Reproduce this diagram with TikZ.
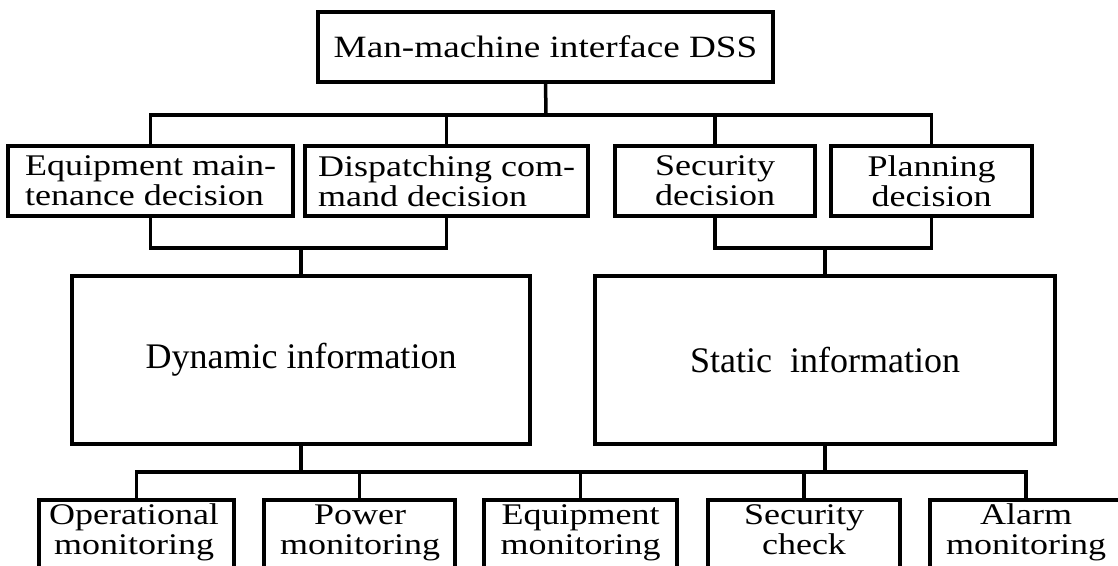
\documentclass[tikz,border=0pt]{standalone}
\usepackage{fontspec}
\setmainfont{Liberation Serif}[FakeStretch=1.2]
\newfontfamily\condfont{Liberation Serif}
\begin{document}
\begin{tikzpicture}[x=1pt,y=-1pt,
  box/.style={draw, line width=4.5pt, inner sep=0pt, outer sep=0pt},
  conn/.style={line width=3.5pt},
  dec/.style={font=\fontsize{30}{30}\selectfont},
  btext/.style={dec, anchor=north, inner sep=0pt, align=center},
  info/.style={font=\condfont\fontsize{36}{36}\selectfont}]
\clip (0,0) rectangle (1118,565);
\fill[white] (0,0) rectangle (1118,565);
% level 0
\node[box, minimum width=455pt, minimum height=70pt, font=\fontsize{31}{31}\selectfont] (top) at (545.5,47) {Man-machine interface DSS};
% level 1
\node[box, dec, minimum width=285pt, minimum height=70pt, align=left] (eqm) at (150.5,181) {Equipment main-\\tenance decision};
\node[box, dec, minimum width=283pt, minimum height=70pt, align=left] (disp) at (446.5,181) {Dispatching com-\\mand decision};
\node[box, dec, minimum width=200pt, minimum height=70pt, align=center] (sec) at (715,181) {Security\\decision};
\node[box, dec, minimum width=201pt, minimum height=70pt, align=center] (plan) at (931.5,181) {Planning\\decision};
% level 2
\node[box, info, minimum width=458pt, minimum height=168pt] (dyn) at (301,360) {Dynamic information};
\node[box, info, minimum width=460pt, minimum height=168pt] (stat) at (825,360) {Static\ \ information};
% level 3
\node[box, minimum width=195pt, minimum height=100pt] (op) at (136.5,550) {};
\node[box, minimum width=191pt, minimum height=100pt] (pow) at (359.5,550) {};
\node[box, minimum width=193pt, minimum height=100pt] (eqmon) at (580.5,550) {};
\node[box, minimum width=192pt, minimum height=100pt] (secc) at (804,550) {};
\node[box, minimum width=192pt, minimum height=100pt] (alarm) at (1026,550) {};
\node[btext] (opt) at (134,503) {\strut Operational\\monitoring};
\node[btext] (powt) at (360,503) {\strut Power\\monitoring};
\node[btext] (eqmont) at (580.5,503) {\strut Equipment\\monitoring};
\node[btext] (secct) at (804,503) {\strut Security\\check};
\node[btext] (alarmt) at (1026,503) {\strut Alarm\\monitoring};
% junctions
\coordinate (b1) at (546,115);
\coordinate (j2) at (301,248);
\coordinate (j3) at (825,248);
\coordinate (j4) at (301,472);
\coordinate (j5) at (825,472);
% connectors
\draw[conn] (top.south) -- (b1);
\draw[conn] (eqm.north) |- (b1);
\draw[conn] (plan.north) |- (b1);
\draw[conn] (disp.north) -- (disp.north |- b1);
\draw[conn] (sec.north) -- (sec.north |- b1);
\draw[conn] (eqm.south) |- (j2);
\draw[conn] (disp.south) |- (j2);
\draw[conn] (j2) -- (dyn.north);
\draw[conn] (sec.south) |- (j3);
\draw[conn] (plan.south) |- (j3);
\draw[conn] (j3) -- (stat.north);
\draw[conn] (dyn.south) -- (j4);
\draw[conn] (stat.south) -- (j5);
\draw[conn] (op.north) |- (j4);
\draw[conn] (alarm.north) |- (j5);
\draw[conn] (j4) -- (j5);
\draw[conn] (pow.north) -- (pow.north |- j4);
\draw[conn] (eqmon.north) -- (eqmon.north |- j4);
\draw[conn] (secc.north) -- (secc.north |- j4);
\end{tikzpicture}
\end{document}
